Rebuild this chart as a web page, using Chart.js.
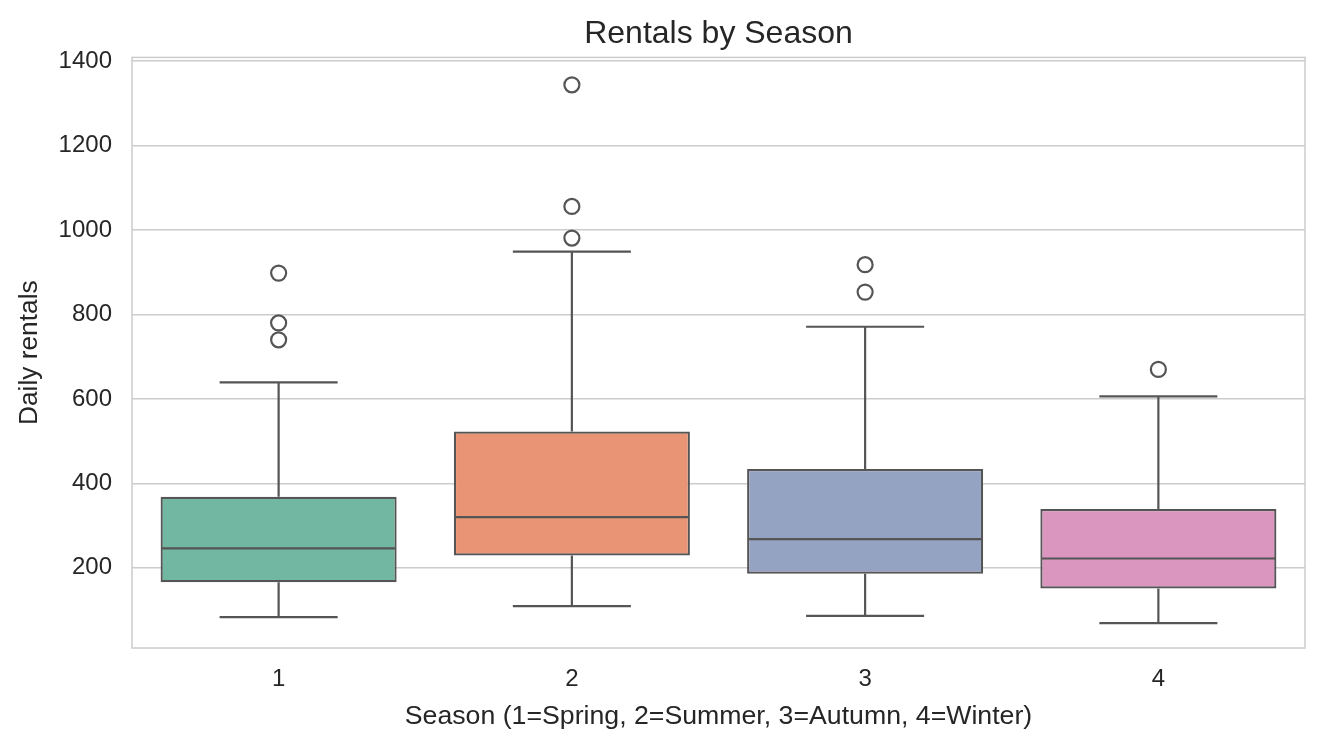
<!DOCTYPE html>
<html>
<head>
<meta charset="utf-8">
<script src="https://cdn.jsdelivr.net/npm/chart.js@4.4.1/dist/chart.umd.min.js"></script>
<style>
  html, body { margin: 0; padding: 0; background: #fff; }
  canvas { display: block; }
</style>
</head>
<body>
<canvas id="canvas" width="1324" height="746"></canvas>
<script>
// values
const seasons = ['1', '2', '3', '4'];
const q1 = [166, 229, 186, 151];
const median = [246, 320, 268, 222];
const q3 = [368, 523, 434, 339];
const whiskerLow = [83, 109, 86, 69];
const whiskerHigh = [639, 949, 771, 606];
const outliers = [[740, 780, 898], [981, 1056, 1344], [853, 918], [670]];
const yTicks = [200, 400, 600, 800, 1000, 1200, 1400];

const boxColors = ['#71b7a1', '#e99575', '#95a3c3', '#db96c0'];
const lineColor = '#555555';
const textColor = '#262626';
const font = "'Liberation Sans', Arial, Helvetica, sans-serif";

const outlierPoints = [];
outliers.forEach((list, i) => {
  list.forEach(v => outlierPoints.push({ x: seasons[i], y: v }));
});

// whiskers, caps, medians and plot frame, drawn via the chart scales
const boxPlotExtras = {
  id: 'boxPlotExtras',
  beforeDatasetsDraw(chart) {
    const { ctx, chartArea } = chart;
    ctx.save();
    ctx.strokeStyle = '#cccccc';
    ctx.lineWidth = 1.5;
    ctx.strokeRect(chartArea.left, chartArea.top, chartArea.right - chartArea.left, chartArea.bottom - chartArea.top);
    ctx.restore();
  },
  afterDatasetsDraw(chart) {
    const { ctx } = chart;
    const x = chart.scales.x;
    const y = chart.scales.y;
    const bars = chart.getDatasetMeta(0).data;
    ctx.save();
    ctx.strokeStyle = lineColor;
    ctx.lineWidth = 2.2;
    ctx.lineCap = 'butt';
    seasons.forEach((s, i) => {
      const cx = x.getPixelForValue(i);
      const w = bars[i].width;
      const cap = w / 4;
      ctx.beginPath();
      // upper whisker
      ctx.moveTo(cx, y.getPixelForValue(q3[i]));
      ctx.lineTo(cx, y.getPixelForValue(whiskerHigh[i]));
      ctx.moveTo(cx - cap, y.getPixelForValue(whiskerHigh[i]));
      ctx.lineTo(cx + cap, y.getPixelForValue(whiskerHigh[i]));
      // lower whisker
      ctx.moveTo(cx, y.getPixelForValue(q1[i]));
      ctx.lineTo(cx, y.getPixelForValue(whiskerLow[i]));
      ctx.moveTo(cx - cap, y.getPixelForValue(whiskerLow[i]));
      ctx.lineTo(cx + cap, y.getPixelForValue(whiskerLow[i]));
      // median
      ctx.moveTo(cx - w / 2 + 1, y.getPixelForValue(median[i]));
      ctx.lineTo(cx + w / 2 - 1, y.getPixelForValue(median[i]));
      ctx.stroke();
    });
    ctx.restore();
  }
};

window.addEventListener('load', setup);

function setup() {
  const ctx = document.getElementById('canvas').getContext('2d');
  new Chart(ctx, {
    type: 'bar',
    data: {
      labels: seasons,
      datasets: [
        {
          label: 'IQR',
          data: seasons.map((s, i) => [q1[i], q3[i]]),
          backgroundColor: boxColors,
          borderColor: lineColor,
          borderWidth: 2.2,
          borderSkipped: false,
          categoryPercentage: 0.805,
          barPercentage: 1
        },
        {
          type: 'line',
          label: 'Outliers',
          data: outlierPoints,
          showLine: false,
          pointRadius: 7.5,
          pointBorderWidth: 2.2,
          pointBorderColor: lineColor,
          pointBackgroundColor: 'rgba(0,0,0,0)'
        }
      ]
    },
    options: {
      responsive: false,
      animation: false,
      devicePixelRatio: 1,
      layout: { padding: { left: 0, right: 19, top: 0, bottom: 0 } },
      plugins: {
        legend: { display: false },
        tooltip: { enabled: false },
        title: {
          display: true,
          fullSize: false,
          text: 'Rentals by Season',
          color: textColor,
          font: { family: font, size: 32, weight: 'normal' },
          padding: { top: 15, bottom: 4 }
        }
      },
      scales: {
        x: {
          offset: true,
          grid: { display: false, drawTicks: false },
          border: { display: false },
          ticks: { color: textColor, font: { family: font, size: 24 }, padding: 17 },
          title: {
            display: true,
            text: 'Season (1=Spring, 2=Summer, 3=Autumn, 4=Winter)',
            color: textColor,
            font: { family: font, size: 26.7 },
            padding: { top: 0, bottom: 13 }
          },
          afterFit(scale) { scale.height = 98; }
        },
        y: {
          min: 10,
          max: 1409,
          grid: { color: '#cccccc', lineWidth: 1.5, drawTicks: false },
          border: { display: false },
          ticks: {
            color: textColor,
            font: { family: font, size: 24 },
            padding: 20,
            callback: v => String(v)
          },
          afterBuildTicks(scale) { scale.ticks = yTicks.map(v => ({ value: v })); },
          title: {
            display: true,
            text: 'Daily rentals',
            color: textColor,
            font: { family: font, size: 26.3 },
            padding: { top: 14, bottom: 0 }
          },
          afterFit(scale) { scale.width = 132; }
        }
      }
    },
    plugins: [boxPlotExtras]
  });
}
</script>
</body>
</html>
